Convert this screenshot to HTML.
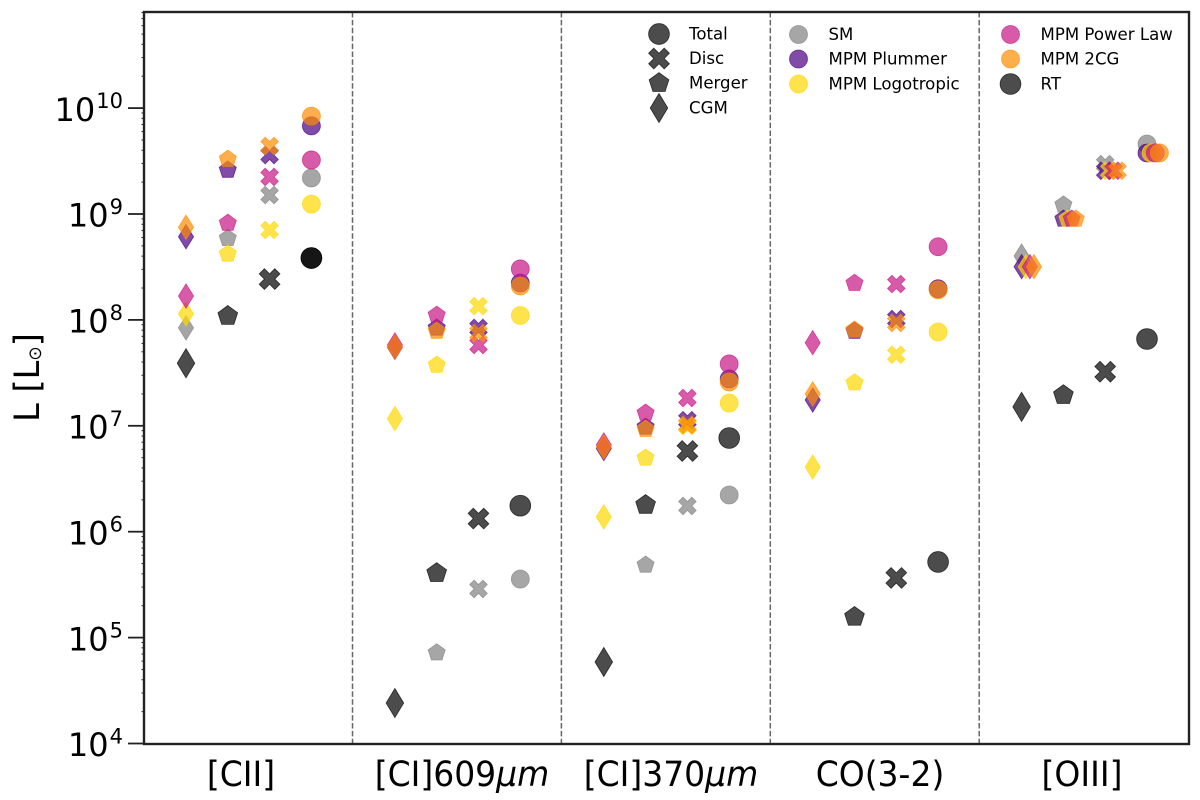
<!DOCTYPE html>
<html lang="en">
<head>
<meta charset="utf-8">
<title>Line luminosity chart</title>
<style>
  html, body { margin: 0; padding: 0; background: #fff; }
  svg { display: block; filter: blur(0.3px); }
  text { font-family: "DejaVu Sans", "Liberation Sans", sans-serif; fill: #000; }
</style>
</head>
<body>
<svg id="chart" xmlns="http://www.w3.org/2000/svg" width="1200" height="800" viewBox="0 0 1200 800">
  <rect x="0" y="0" width="1200" height="800" fill="#fff"/>
  <g id="grid-lines"></g>
  <g id="marks"></g>
  <g id="y-axis"></g>
  <rect x="144" y="12" width="1045" height="732" fill="none" stroke="#222" stroke-width="2.4"/>
  <text transform="translate(39,377.5) rotate(-90) scale(0.96,1)" text-anchor="middle" font-size="35">L [L<tspan font-size="18" dy="2">⊙</tspan><tspan dy="-2">]</tspan></text>
  <text transform="translate(241,786) scale(1,1.04)" text-anchor="middle" font-size="33">[CII]</text>
  <text transform="translate(462,786) scale(1,1.04)" text-anchor="middle" font-size="33">[CI]609<tspan font-style="italic">μm</tspan></text>
  <text transform="translate(671,786) scale(1,1.04)" text-anchor="middle" font-size="33">[CI]370<tspan font-style="italic">μm</tspan></text>
  <text transform="translate(880,786) scale(1,1.04)" text-anchor="middle" font-size="33">CO(3-2)</text>
  <text transform="translate(1082,786) scale(1,1.04)" text-anchor="middle" font-size="33">[OIII]</text>
  <g id="legend"></g>
</svg>
<script>
// Categories
const lines = ['[CII]', '[CI]609um', '[CI]370um', 'CO(3-2)', '[OIII]'];
const components = ['CGM', 'Merger', 'Disc', 'Total'];
const yTickExponents = [4, 5, 6, 7, 8, 9, 10];

// Series values: one row per line, columns follow components (L in solar units)
const rtValues = [
  [3.9e7, 1.09e8, 2.43e8, 3.84e8],
  [2.41e4, 4.07e5, 1.33e6, 1.76e6],
  [5.88e4, 1.79e6, 5.78e6, 7.67e6],
  [null, 1.57e5, 3.66e5, 5.18e5],
  [1.51e7, 1.95e7, 3.24e7, 6.6e7]
];
// A second black point coincides with the [CII] Total RT point
const rtRepeatValues = [
  [null, null, null, 3.84e8],
  [null, null, null, null],
  [null, null, null, null],
  [null, null, null, null],
  [null, null, null, null]
];
const smValues = [
  [8.4e7, 5.9e8, 1.51e9, 2.19e9],
  [null, 7.2e4, 2.88e5, 3.57e5],
  [null, 4.85e5, 1.75e6, 2.22e6],
  [null, null, null, null],
  [4.01e8, 1.22e9, 2.96e9, 4.58e9]
];
const plummerValues = [
  [6.1e8, 2.6e9, 3.6e9, 6.8e9],
  [5.5e7, 8.4e7, 8.4e7, 2.23e8],
  [6.1e6, 9.75e6, 1.13e7, 2.77e7],
  [1.75e7, 7.85e7, 1.02e8, 1.97e8],
  [3.18e8, 8.97e8, 2.56e9, 3.77e9]
];
const logotropicValues = [
  [1.14e8, 4.2e8, 7.06e8, 1.24e9],
  [1.17e7, 3.75e7, 1.35e8, 1.1e8],
  [1.38e6, 4.97e6, 9.96e6, 1.64e7],
  [4.08e6, 2.55e7, 4.69e7, 7.69e7],
  [3.18e8, 8.97e8, 2.56e9, 3.77e9]
];
const powerLawValues = [
  [1.68e8, 8.2e8, 2.24e9, 3.24e9],
  [5.8e7, 1.11e8, 5.8e7, 3.03e8],
  [6.6e6, 1.32e7, 1.83e7, 3.84e7],
  [6.09e7, 2.22e8, 2.18e8, 4.91e8],
  [3.18e8, 8.97e8, 2.56e9, 3.77e9]
];
const twoCgValues = [
  [7.5e8, 3.3e9, 4.39e9, 8.4e9],
  [5.55e7, 7.85e7, 7.5e7, 2.09e8],
  [6.3e6, 9.3e6, 1.02e7, 2.59e7],
  [2.0e7, 8.03e7, 9.35e7, 1.92e8],
  [3.18e8, 8.97e8, 2.56e9, 3.77e9]
];

const SVG_NS = 'http://www.w3.org/2000/svg';

// Axis functions
function yScale(value) {
  return 743.5 - (Math.log10(value) - 4) * 105.9;
}
function xScale(lineIndex, componentIndex) {
  return 186 + lineIndex * 208.9 + componentIndex * 41.8;
}

function markerPath(shape, cx, cy, big) {
  if (shape === 'Total') {
    const r = big ? 10.4 : 9;
    return 'M' + (cx - r) + ' ' + cy + 'a' + r + ' ' + r + ' 0 1 0 ' + (2 * r) + ' 0a' + r + ' ' + r + ' 0 1 0 ' + (-2 * r) + ' 0Z';
  }
  if (shape === 'Disc') {
    const h = big ? 10.4 : 8.8;
    const pts = [[-1,-2],[0,-1],[1,-2],[2,-1],[1,0],[2,1],[1,2],[0,1],[-1,2],[-2,1],[-1,0],[-2,-1]];
    return 'M' + pts.map(function (p) { return (cx + p[0] * h / 2) + ' ' + (cy + p[1] * h / 2); }).join('L') + 'Z';
  }
  if (shape === 'Merger') {
    const r = big ? 10.4 : 9;
    const corners = [];
    for (let i = 0; i < 5; i++) {
      const a = -Math.PI / 2 + i * 2 * Math.PI / 5;
      corners.push((cx + r * Math.cos(a)) + ' ' + (cy + r * Math.sin(a)));
    }
    return 'M' + corners.join('L') + 'Z';
  }
  const hw = big ? 8.8 : 7.6;
  const hh = big ? 14.6 : 12.2;
  return 'M' + cx + ' ' + (cy - hh) + 'L' + (cx + hw) + ' ' + cy + 'L' + cx + ' ' + (cy + hh) + 'L' + (cx - hw) + ' ' + cy + 'Z';
}

function addMarker(parent, shape, cx, cy, color, big, name) {
  const el = document.createElementNS(SVG_NS, 'path');
  el.setAttribute('d', markerPath(shape, cx, cy, big));
  el.setAttribute('fill', color);
  el.setAttribute('fill-opacity', '0.7');
  el.setAttribute('stroke', color);
  el.setAttribute('stroke-opacity', '0.7');
  el.setAttribute('stroke-width', '0.8');
  
  
  parent.appendChild(el);
}

// Separators
const gridGroup = document.getElementById('grid-lines');
for (let i = 1; i < lines.length; i++) {
  const sep = document.createElementNS(SVG_NS, 'line');
  const sx = xScale(i, 0) - 42.4;
  sep.setAttribute('x1', sx);
  sep.setAttribute('x2', sx);
  sep.setAttribute('y1', 12);
  sep.setAttribute('y2', 744);
  sep.setAttribute('stroke', '#000');
  sep.setAttribute('stroke-opacity', '0.6');
  sep.setAttribute('stroke-width', '1.5');
  sep.setAttribute('stroke-dasharray', '5.5 2.4');
  
  
  gridGroup.appendChild(sep);
}

// Y axis ticks
const axisGroup = document.getElementById('y-axis');
yTickExponents.forEach(function (exp) {
  const ty = yScale(Math.pow(10, exp));
  const tick = document.createElementNS(SVG_NS, 'line');
  tick.setAttribute('x1', 128);
  tick.setAttribute('x2', 144);
  tick.setAttribute('y1', ty);
  tick.setAttribute('y2', ty);
  tick.setAttribute('stroke', '#222');
  tick.setAttribute('stroke-width', '1.8');
  
  
  axisGroup.appendChild(tick);

  const label = document.createElementNS(SVG_NS, 'text');
  label.setAttribute('x', 123);
  label.setAttribute('y', ty + 12.7);
  label.setAttribute('text-anchor', 'end');
  label.setAttribute('font-size', '32');
  
  
  label.appendChild(document.createTextNode('10'));
  const sup = document.createElementNS(SVG_NS, 'tspan');
  sup.setAttribute('dy', '-12.7');
  sup.setAttribute('dx', '1');
  sup.setAttribute('font-size', '21');
  sup.textContent = String(exp);
  label.appendChild(sup);
  axisGroup.appendChild(label);
});
for (let decade = 4; decade <= 10; decade++) {
  for (let m = 2; m <= 9; m++) {
    const my = yScale(m * Math.pow(10, decade));
    if (my < 12) continue;
    const minor = document.createElementNS(SVG_NS, 'line');
    minor.setAttribute('x1', 141.5);
    minor.setAttribute('x2', 144);
    minor.setAttribute('y1', my);
    minor.setAttribute('y2', my);
    minor.setAttribute('stroke', '#222');
    minor.setAttribute('stroke-width', '1');
    
    
    axisGroup.appendChild(minor);
  }
}

// Data marks, in drawing order. Model series in the last group are slightly side by side.
const marksGroup = document.getElementById('marks');
function drawSeries(values, color, big, seriesName, oiiiShift) {
  values.forEach(function (row, li) {
    row.forEach(function (val, ci) {
      if (val === null) return;
      const shift = li === lines.length - 1 ? oiiiShift : 0;
      addMarker(marksGroup, components[ci], xScale(li, ci) + shift, yScale(val), color, big, seriesName + '-point');
    });
  });
}
drawSeries(rtRepeatValues, '#000000', true, 'rt-repeat', 0);
drawSeries(smValues, '#808080', false, 'sm', 0);
drawSeries(plummerValues, '#4b0082', false, 'mpm-plummer', 0);
drawSeries(logotropicValues, '#ffd700', false, 'mpm-logotropic', 4.1);
drawSeries(powerLawValues, '#c71585', false, 'mpm-power-law', 8.3);
drawSeries(twoCgValues, '#ff8c00', false, 'mpm-2cg', 12.4);
drawSeries(rtValues, '#000000', true, 'rt', 0);

// Legend
const legendGroup = document.getElementById('legend');
function legendEntry(shape, mx, my, color, big, label) {
  addMarker(legendGroup, shape, mx, my, color, big, 'legend-marker');
  const t = document.createElementNS(SVG_NS, 'text');
  t.setAttribute('x', mx + 30);
  t.setAttribute('y', my + 5.5);
  t.setAttribute('font-size', '16.6');
  
  
  t.textContent = label;
  legendGroup.appendChild(t);
}
legendEntry('Total', 659, 34, '#000000', true, 'Total');
legendEntry('Disc', 659, 58.5, '#000000', true, 'Disc');
legendEntry('Merger', 659, 83, '#000000', true, 'Merger');
legendEntry('CGM', 659, 108, '#000000', true, 'CGM');
legendEntry('Total', 798.5, 34.5, '#808080', false, 'SM');
legendEntry('Total', 798.5, 59, '#4b0082', false, 'MPM Plummer');
legendEntry('Total', 798.5, 84, '#ffd700', false, 'MPM Logotropic');
legendEntry('Total', 1010.5, 34.5, '#c71585', false, 'MPM Power Law');
legendEntry('Total', 1010.5, 59, '#ff8c00', false, 'MPM 2CG');
legendEntry('Total', 1010.5, 84, '#000000', true, 'RT');
</script>
</body>
</html>
